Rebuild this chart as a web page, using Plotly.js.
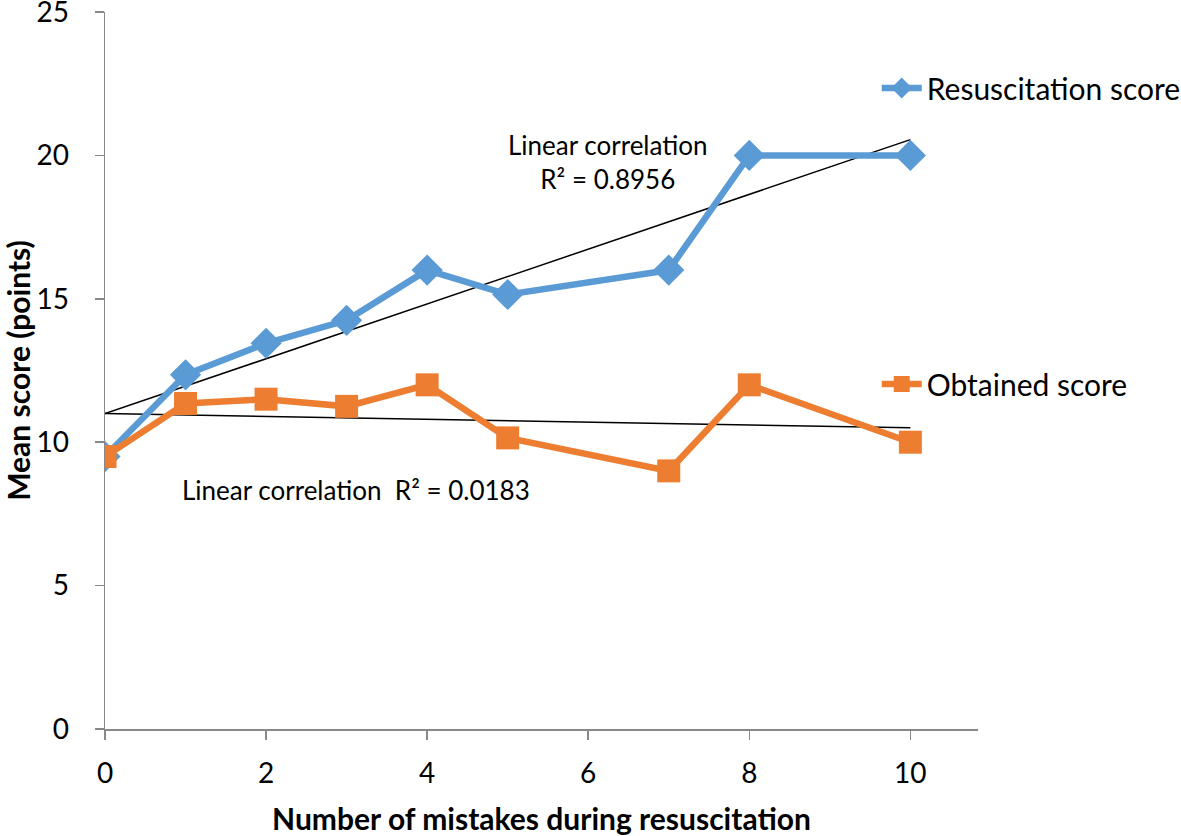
<!DOCTYPE html>
<html><head><meta charset="utf-8">
<script src="https://cdn.plot.ly/plotly-3.0.1.min.js"></script>
<style>html,body{margin:0;padding:0;background:#fff;}</style>
</head><body>
<div id="chart" style="width:1181px;height:836px;"></div>
<script>
const mistakes = [0, 1, 2, 3, 4, 5, 7, 8, 10];
const resuscitationScore = [9.5, 12.35, 13.45, 14.25, 16.0, 15.15, 16.0, 20.0, 20.0];
const obtainedScore = [9.5, 11.35, 11.5, 11.25, 12.0, 10.15, 9.0, 12.0, 10.0];
const trendX = [0, 10];
const resusTrendY = [11.0, 20.55];
const obtainedTrendY = [11.0, 10.5];
const xTicks = [0, 2, 4, 6, 8, 10];
const yTicks = [0, 5, 10, 15, 20, 25];

const FONT = 'Lato, "Open Sans", sans-serif';
const blue = '#5B9BD5', orange = '#ED7D31';

const traces = [
  {x: trendX, y: resusTrendY, mode: 'lines', line: {color: '#000', width: 1.5}, showlegend: false, hoverinfo: 'skip'},
  {x: trendX, y: obtainedTrendY, mode: 'lines', line: {color: '#000', width: 1.5}, showlegend: false, hoverinfo: 'skip'},
  {x: mistakes, y: resuscitationScore, name: 'Resuscitation score', mode: 'lines+markers',
   line: {color: blue, width: 6.5}, marker: {symbol: 'diamond', size: 24, color: blue}, legend: 'legend'},
  {x: mistakes, y: obtainedScore, name: 'Obtained score', mode: 'lines+markers',
   line: {color: orange, width: 6.5}, marker: {symbol: 'square', size: 23, color: orange}, legend: 'legend2'}
];

const layout = {
  width: 1181, height: 836,
  margin: {l: 105, r: 203, t: 12, b: 107, autoexpand: false},
  paper_bgcolor: '#fff', plot_bgcolor: '#fff',
  font: {family: FONT, color: '#000', size: 28},
  xaxis: {
    range: [0, 10.84], tickvals: xTicks, ticktext: xTicks.map(String),
    showgrid: false, zeroline: false, showline: true, linecolor: '#888', linewidth: 1.5,
    ticks: 'outside', ticklen: 9, tickcolor: '#888', tickwidth: 1.5, automargin: false,
    tickfont: {family: FONT, size: 28}, ticklabelstandoff: 10, ticklabeloverflow: 'allow',
    title: {text: 'Number of mistakes during resuscitation', font: {family: FONT, size: 30, weight: 'bold'}, standoff: 22}
  },
  yaxis: {
    range: [0, 25], tickvals: yTicks, ticktext: yTicks.map(String),
    showgrid: false, zeroline: false, showline: true, linecolor: '#888', linewidth: 1.5,
    ticks: 'outside', ticklen: 9, tickcolor: '#888', tickwidth: 1.5, automargin: false,
    tickfont: {family: FONT, size: 28}, ticklabelstandoff: 20, ticklabeloverflow: 'allow',
    title: {text: 'Mean score (points)', font: {family: FONT, size: 30, weight: 'bold'}, standoff: 30}
  },
  legend: {x: 0.884, y: 0.894, xanchor: 'left', yanchor: 'middle', bgcolor: 'rgba(0,0,0,0)',
           font: {family: FONT, size: 30}, itemwidth: 40},
  legend2: {x: 0.884, y: 0.481, xanchor: 'left', yanchor: 'middle', bgcolor: 'rgba(0,0,0,0)',
            font: {family: FONT, size: 30}, itemwidth: 40},
  annotations: [
    {x: 6.24, y: 19.77, xref: 'x', yref: 'y', showarrow: false, align: 'center',
     text: 'Linear correlation<br>R² = 0.8956', font: {family: FONT, size: 26}},
    {x: 3.12, y: 8.33, xref: 'x', yref: 'y', showarrow: false,
     text: 'Linear correlation  R² = 0.0183', font: {family: FONT, size: 26}}
  ],
  showlegend: true
};

Plotly.newPlot('chart', traces, layout, {displayModeBar: false, staticPlot: true});
</script>
</body></html>
